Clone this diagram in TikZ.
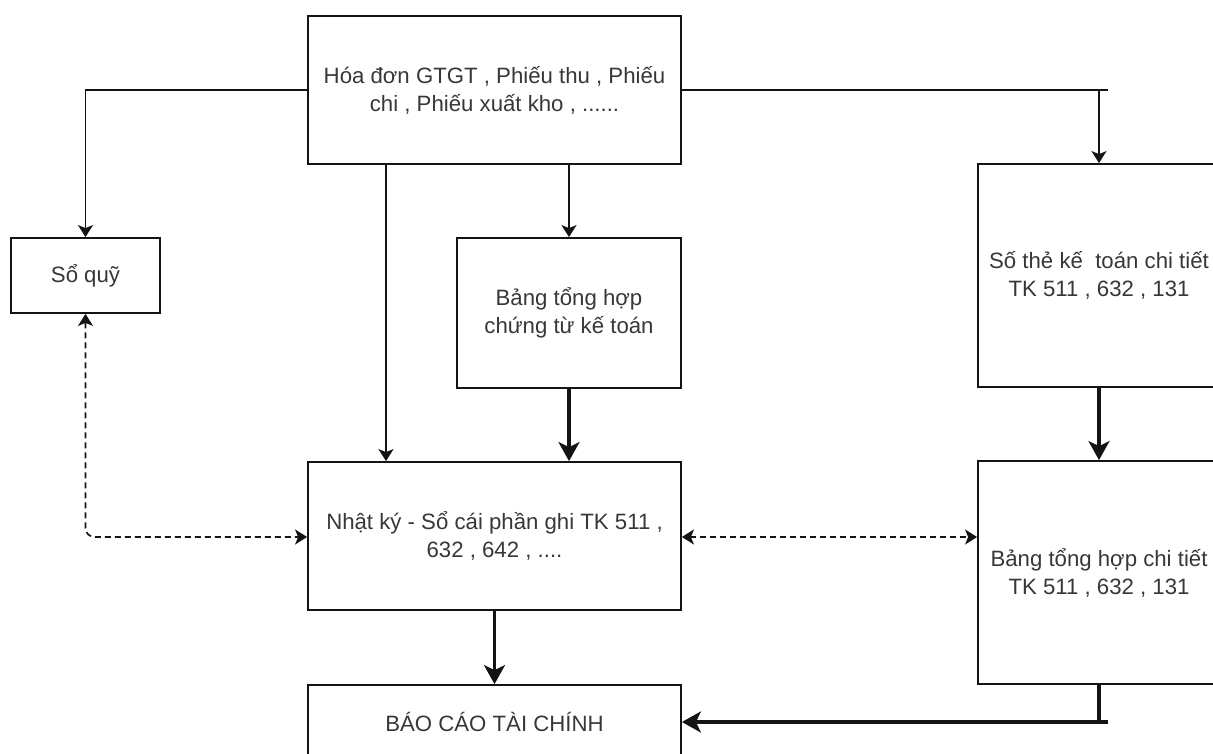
\documentclass[tikz,border=0pt]{standalone}
\usepackage{fontspec}
\setmainfont{Liberation Sans}
\usetikzlibrary{arrows.meta}
\definecolor{txt}{RGB}{55,55,55}
\definecolor{ln}{RGB}{20,20,20}
\tikzset{
  boxnode/.style={draw=ln, line width=1.8pt, rectangle, inner sep=0pt,
    align=center, text=txt, font=\fontsize{22.2}{28}\selectfont},
  thinarrow/.style={draw=ln, line width=1.7pt,
    -{Stealth[length=12pt, width=15pt, inset=3pt]}},
  thickarrow/.style={draw=ln, line width=3.2pt,
    -{Stealth[length=19pt, width=21pt, inset=5pt]}},
  thinline/.style={draw=ln, line width=1.7pt},
  thickline/.style={draw=ln, line width=3.2pt},
  dashlink/.style={draw=ln, line width=1.7pt, dash pattern=on 6pt off 4pt,
    {Stealth[length=12pt, width=15pt, inset=3pt]}-{Stealth[length=12pt, width=15pt, inset=3pt]}},
}
\begin{document}
\begin{tikzpicture}[x=1pt, y=-1pt]
\useasboundingbox (0,0) rectangle (1213,754);
\clip (0,0) rectangle (1213,754);

% boxes
\node[boxnode, minimum width=373pt, minimum height=148pt] (top) at (494.5,90)
  {Hóa đơn GTGT , Phiếu thu , Phiếu\\chi , Phiếu xuất kho , ......};
\node[boxnode, minimum width=149pt, minimum height=75pt] (quy) at (85.5,275.5) {Sổ quỹ};
\node[boxnode, minimum width=224pt, minimum height=150pt] (bct) at (569,313)
  {Bảng tổng hợp\\chứng từ kế toán};
\node[boxnode, minimum width=242pt, minimum height=223pt] (sothe) at (1099,275.5)
  {Số thẻ kế\ \ toán chi tiết\\TK 511 , 632 , 131};
\node[boxnode, minimum width=373pt, minimum height=148pt] (nk) at (494.5,536)
  {Nhật ký - Sổ cái phần ghi TK 511 ,\\632 , 642 , ....};
\node[boxnode, minimum width=242pt, minimum height=223pt] (ct) at (1099,572.5)
  {Bảng tổng hợp chi tiết\\TK 511 , 632 , 131};
\node[boxnode, minimum width=373pt, minimum height=74pt] (bc) at (494.5,722)
  {BÁO CÁO TÀI CHÍNH};

% junction points on the branch lines
\coordinate (rjoin) at (1099,90);
\coordinate (rend) at (1108,90);
\coordinate (bjoin) at (1108,722);

% source documents fan out
\draw[thinarrow] (top.west) -| (quy.north);
\draw[thinline] (top.east) -- (rend);
\draw[thinarrow] (rjoin) -- (sothe.north);
\draw[thinarrow] ([xshift=-108.5pt]top.south) -- ([xshift=-108.5pt]nk.north);
\draw[thinarrow] (top.south -| bct.north) -- (bct.north);

% posting flow
\draw[thickarrow] (bct.south) -- (bct.south |- nk.north);
\draw[thickarrow] (sothe.south) -- (ct.north);
\draw[thickarrow] (nk.south) -- (bc.north);
\draw[thickline] (ct.south) -- (ct.south |- bc.east);
\draw[thickarrow] (bjoin) -- (bc.east);

% reconciliation links
\draw[dashlink, rounded corners=9pt] (quy.south) |- ([yshift=-1pt]nk.west);
\draw[dashlink] ([yshift=-1pt]nk.east) -- ([yshift=-1pt]nk.east -| ct.west);
\end{tikzpicture}
\end{document}
